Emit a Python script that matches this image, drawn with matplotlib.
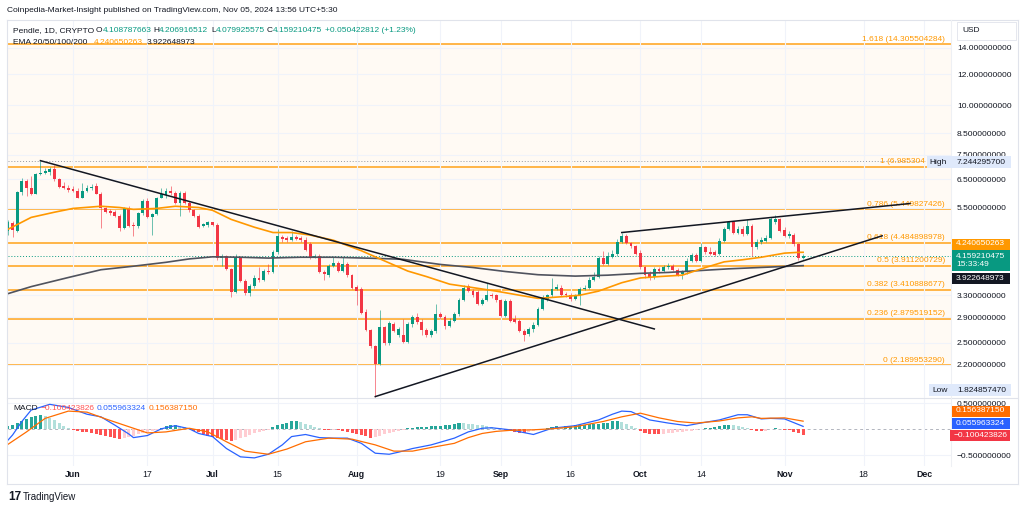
import matplotlib
matplotlib.use("Agg")
import matplotlib.pyplot as plt
import matplotlib.dates as mdates
import matplotlib.ticker as mticker
from matplotlib.patches import Rectangle
import numpy as np
import pandas as pd

plt.rcParams['font.family'] = ['Liberation Sans', 'DejaVu Sans']

# ---------------------------------------------------------------- data
dates = pd.date_range('2024-05-18', '2024-11-05', freq='D')

opens = [
    4.79, 5.03, 4.80, 6.04, 6.42, 6.19, 5.97, 6.69, 6.75, 6.76,
    6.88, 6.49, 6.24, 6.19, 6.14, 6.07, 5.83, 6.05, 6.16, 6.25,
    5.97, 5.48, 5.40, 5.36, 5.25, 4.90, 5.50, 4.98, 4.94, 5.32,
    5.72, 5.20, 5.30, 5.83, 5.92, 6.07, 6.01, 5.66, 6.01, 5.66,
    5.42, 5.25, 4.94, 4.97, 5.05, 4.98, 4.10, 4.16, 3.85, 3.36,
    4.12, 3.59, 3.34, 3.49, 3.65, 3.61, 3.81, 3.79, 4.24, 4.64,
    4.60, 4.55, 4.63, 4.60, 4.56, 4.45, 4.12, 4.16, 3.79, 3.71,
    3.92, 3.98, 3.81, 3.95, 3.71, 3.46, 3.42, 3.00, 2.69, 2.45,
    2.21, 2.74, 2.50, 2.79, 2.61, 2.62, 2.51, 2.79, 2.91, 2.83,
    2.69, 2.61, 2.67, 2.95, 2.90, 2.76, 2.84, 2.96, 3.21, 3.49,
    3.39, 3.36, 3.13, 3.21, 3.31, 3.30, 3.20, 2.93, 3.19, 2.88,
    2.84, 2.68, 2.63, 2.71, 2.77, 3.04, 3.22, 3.30, 3.42, 3.45,
    3.33, 3.31, 3.23, 3.28, 3.42, 3.45, 3.61, 3.66, 4.10, 3.96,
    4.12, 4.20, 4.51, 4.67, 4.47, 4.39, 4.22, 3.89, 3.74, 3.66,
    3.85, 3.81, 3.89, 3.91, 3.83, 3.74, 3.78, 4.04, 4.18, 4.04,
    4.37, 4.26, 4.24, 4.20, 4.54, 4.85, 5.05, 4.76, 4.87, 4.71,
    4.95, 4.37, 4.50, 4.54, 4.62, 5.06, 5.14, 4.83, 4.67, 4.70,
    4.45, 4.108787663]
highs = [
    5.11, 5.08, 6.08, 6.54, 6.49, 6.61, 6.75, 7.244295700, 6.94, 7.00,
    7.08, 6.53, 6.38, 6.27, 6.24, 6.16, 6.37, 6.27, 6.33, 6.34,
    6.02, 5.51, 5.45, 5.44, 5.30, 5.54, 5.55, 5.06, 5.36, 5.78,
    5.81, 5.35, 5.87, 6.19, 6.19, 6.25, 6.08, 6.08, 6.07, 5.71,
    5.45, 5.30, 5.03, 5.10, 5.07, 5.03, 4.20, 4.18, 3.87, 4.20,
    4.15, 3.63, 3.52, 3.72, 3.90, 3.85, 3.96, 4.30, 4.85, 4.70,
    4.66, 4.80, 4.68, 4.66, 4.63, 4.50, 4.20, 4.20, 3.82, 3.96,
    4.12, 4.03, 4.13, 4.01, 3.74, 3.50, 3.46, 3.04, 2.71, 2.47,
    3.03, 2.76, 2.84, 2.82, 2.74, 2.87, 2.82, 2.94, 2.98, 2.87,
    2.72, 2.71, 3.13, 2.99, 2.94, 2.89, 2.99, 3.25, 3.50, 3.52,
    3.42, 3.40, 3.25, 3.55, 3.35, 3.33, 3.23, 3.23, 3.23, 2.94,
    2.87, 2.71, 2.74, 2.82, 3.08, 3.31, 3.33, 3.64, 3.52, 3.50,
    3.36, 3.35, 3.33, 3.46, 3.50, 3.67, 3.77, 4.15, 4.28, 4.26,
    4.30, 4.58, 4.74, 4.71, 4.50, 4.42, 4.30, 3.91, 3.80, 3.89,
    3.89, 3.94, 3.98, 3.96, 3.87, 3.82, 4.10, 4.22, 4.22, 4.48,
    4.40, 4.37, 4.30, 4.60, 4.91, 5.10, 5.08, 4.94, 4.94, 5.14,
    5.00, 4.58, 4.63, 4.68, 5.20, 5.27, 5.19, 4.91, 4.80, 4.74,
    4.48, 4.206916512]
lows = [
    4.68, 4.63, 4.78, 5.93, 5.90, 5.93, 5.95, 6.65, 6.69, 6.65,
    6.45, 6.16, 6.13, 6.04, 6.03, 5.81, 5.81, 6.02, 6.10, 5.95,
    4.90, 5.33, 5.27, 5.20, 4.80, 4.86, 4.92, 4.67, 4.90, 5.28,
    5.17, 4.69, 5.27, 5.81, 5.84, 5.93, 5.63, 5.25, 5.61, 5.37,
    5.20, 4.88, 4.92, 4.93, 4.94, 4.06, 3.92, 3.82, 3.27, 3.35,
    3.56, 3.31, 3.29, 3.44, 3.56, 3.59, 3.74, 3.76, 4.20, 4.50,
    4.50, 4.53, 4.55, 4.50, 4.28, 4.08, 4.10, 3.75, 3.61, 3.68,
    3.90, 3.79, 3.79, 3.68, 3.43, 3.11, 2.96, 2.68, 2.43, 1.824857470,
    2.20, 2.47, 2.46, 2.66, 2.59, 2.49, 2.49, 2.74, 2.79, 2.61,
    2.59, 2.59, 2.65, 2.87, 2.71, 2.74, 2.82, 2.93, 3.19, 3.37,
    3.27, 3.11, 3.11, 3.19, 3.25, 3.17, 2.91, 2.91, 2.82, 2.81,
    2.66, 2.52, 2.60, 2.66, 2.76, 3.03, 3.19, 3.27, 3.40, 3.29,
    3.27, 3.19, 3.21, 3.11, 3.40, 3.42, 3.59, 3.65, 3.94, 3.94,
    4.10, 4.14, 4.47, 4.44, 4.35, 4.17, 3.85, 3.65, 3.61, 3.63,
    3.76, 3.79, 3.85, 3.81, 3.70, 3.63, 3.74, 4.01, 4.01, 4.01,
    4.20, 4.17, 4.15, 4.17, 4.50, 4.82, 4.71, 4.71, 4.66, 4.69,
    4.15, 4.32, 4.45, 4.50, 4.59, 5.00, 4.77, 4.63, 4.62, 4.40,
    4.05, 4.079925575]
closes = [
    5.06, 4.82, 6.04, 6.42, 6.19, 5.97, 6.69, 6.75, 6.81, 6.88,
    6.49, 6.21, 6.19, 6.09, 6.07, 5.83, 6.05, 6.19, 6.21, 5.97,
    5.50, 5.38, 5.32, 5.25, 4.90, 5.50, 4.95, 4.94, 5.32, 5.72,
    5.22, 5.30, 5.83, 5.95, 6.07, 5.99, 5.66, 6.01, 5.66, 5.42,
    5.25, 4.92, 5.00, 5.05, 4.98, 4.10, 4.16, 3.85, 3.36, 4.12,
    3.59, 3.34, 3.49, 3.65, 3.61, 3.81, 3.79, 4.24, 4.66, 4.57,
    4.55, 4.64, 4.58, 4.55, 4.30, 4.12, 4.16, 3.78, 3.74, 3.92,
    3.98, 3.81, 3.96, 3.71, 3.45, 3.39, 2.97, 2.69, 2.45, 2.21,
    2.74, 2.50, 2.80, 2.68, 2.71, 2.51, 2.79, 2.90, 2.82, 2.69,
    2.61, 2.67, 2.95, 2.90, 2.76, 2.84, 2.96, 3.21, 3.45, 3.39,
    3.30, 3.13, 3.21, 3.30, 3.29, 3.20, 2.93, 3.19, 2.84, 2.83,
    2.68, 2.62, 2.71, 2.77, 3.04, 3.23, 3.30, 3.43, 3.47, 3.31,
    3.30, 3.22, 3.28, 3.42, 3.45, 3.61, 3.66, 4.10, 3.96, 4.14,
    4.20, 4.51, 4.67, 4.47, 4.39, 4.20, 3.89, 3.71, 3.66, 3.84,
    3.81, 3.89, 3.91, 3.83, 3.72, 3.79, 4.04, 4.18, 4.04, 4.37,
    4.24, 4.20, 4.18, 4.54, 4.85, 5.05, 4.76, 4.87, 4.71, 4.95,
    4.37, 4.51, 4.56, 4.62, 5.14, 5.14, 4.80, 4.67, 4.72, 4.45,
    4.108787663, 4.159210475]

macd_hist = [
    0.07, 0.08, 0.12, 0.16, 0.20, 0.23, 0.25, 0.27, 0.26, 0.22,
    0.17, 0.12, 0.07, 0.03, -0.02, -0.03, -0.05, -0.06, -0.07, -0.09,
    -0.11, -0.12, -0.14, -0.16, -0.18, -0.17, -0.15, -0.12, -0.10, -0.08,
    -0.05, -0.03, -0.01, 0.03, 0.06, 0.08, 0.09, 0.07, 0.05, 0.02,
    -0.03, -0.06, -0.09, -0.12, -0.14, -0.16, -0.18, -0.20, -0.22, -0.20,
    -0.17, -0.14, -0.11, -0.08, -0.06, -0.04, -0.02, 0.04, 0.08, 0.11,
    0.13, 0.15, 0.16, 0.14, 0.11, 0.08, 0.05, 0.02, -0.01, -0.02,
    -0.01, -0.02, -0.03, -0.05, -0.07, -0.09, -0.11, -0.13, -0.16, -0.14,
    -0.12, -0.10, -0.08, -0.06, -0.04, -0.02, 0.02, 0.03, 0.04, 0.04,
    0.05, 0.06, 0.07, 0.07, 0.08, 0.09, 0.10, 0.13, 0.12, 0.11,
    0.10, 0.09, 0.08, 0.06, 0.05, 0.03, 0.02, -0.02, -0.04, -0.06,
    -0.07, -0.08, -0.06, -0.03, -0.02, -0.01, 0.03, 0.05, 0.06, 0.05,
    0.06, 0.07, 0.08, 0.08, 0.09, 0.10, 0.10, 0.11, 0.12, 0.13,
    0.15, 0.16, 0.14, 0.10, 0.06, 0.02, -0.04, -0.07, -0.09, -0.10,
    -0.10, -0.09, -0.08, -0.07, -0.06, -0.05, -0.04, -0.03, -0.02, 0.01,
    0.02, 0.03, 0.05, 0.07, 0.08, 0.09, 0.08, 0.06, 0.04, 0.02,
    -0.02, -0.03, -0.04, -0.03, 0.01, 0.02, 0.01, -0.01, -0.01, -0.05,
    -0.08, -0.100423826]

ema_fast_dates = ['2024-05-18', '2024-05-23', '2024-05-28', '2024-06-01', '2024-06-07',
                  '2024-06-11', '2024-06-14', '2024-06-19', '2024-06-23', '2024-06-28',
                  '2024-07-01', '2024-07-05', '2024-07-10', '2024-07-14', '2024-07-18',
                  '2024-07-22', '2024-07-27', '2024-08-02', '2024-08-06', '2024-08-12',
                  '2024-08-16', '2024-08-21', '2024-08-26', '2024-08-31', '2024-09-05',
                  '2024-09-09', '2024-09-14', '2024-09-18', '2024-09-22', '2024-09-27',
                  '2024-10-01', '2024-10-05', '2024-10-10', '2024-10-15', '2024-10-19',
                  '2024-10-23', '2024-10-27', '2024-11-01', '2024-11-04', '2024-11-05']
ema_fast = [4.85, 5.20, 5.36, 5.48, 5.55, 5.51, 5.45, 5.48, 5.55, 5.51,
            5.42, 5.14, 4.91, 4.76, 4.76, 4.69, 4.55, 4.28, 4.08, 3.80,
            3.68, 3.52, 3.45, 3.38, 3.30, 3.24, 3.27, 3.30, 3.38, 3.55,
            3.65, 3.68, 3.71, 3.88, 4.01, 4.06, 4.12, 4.22, 4.24, 4.240650263]

ema_slow_dates = ['2024-05-18', '2024-05-23', '2024-05-31', '2024-06-07', '2024-06-14',
                  '2024-06-21', '2024-06-26', '2024-07-01', '2024-07-07', '2024-07-13',
                  '2024-07-20', '2024-07-27', '2024-08-06', '2024-08-11', '2024-08-19',
                  '2024-08-26', '2024-09-02', '2024-09-09', '2024-09-17', '2024-09-24',
                  '2024-10-01', '2024-10-07', '2024-10-20', '2024-11-05']
ema_slow = [3.33, 3.47, 3.66, 3.83, 3.91, 4.00, 4.08, 4.13, 4.12, 4.10,
            4.12, 4.12, 4.09, 4.07, 3.95, 3.88, 3.79, 3.72, 3.69, 3.71,
            3.75, 3.77, 3.85, 3.922648973]

macd_dates = ['2024-05-18', '2024-05-19', '2024-05-21', '2024-05-23', '2024-05-27',
              '2024-05-31', '2024-06-04', '2024-06-07', '2024-06-10', '2024-06-13',
              '2024-06-14', '2024-06-17', '2024-06-20', '2024-06-23', '2024-06-26',
              '2024-06-28', '2024-07-01', '2024-07-04', '2024-07-07', '2024-07-10',
              '2024-07-13', '2024-07-16', '2024-07-18', '2024-07-21', '2024-07-24',
              '2024-07-27', '2024-07-30', '2024-08-02', '2024-08-05', '2024-08-08',
              '2024-08-10', '2024-08-13', '2024-08-17', '2024-08-22', '2024-08-25',
              '2024-08-28', '2024-08-30', '2024-09-03', '2024-09-08', '2024-09-12',
              '2024-09-17', '2024-09-22', '2024-09-25', '2024-09-27', '2024-09-29',
              '2024-10-03', '2024-10-07', '2024-10-11', '2024-10-14', '2024-10-18',
              '2024-10-22', '2024-10-24', '2024-10-27', '2024-10-29', '2024-11-01',
              '2024-11-05']
macd_line = [-0.21, -0.11, 0.15, 0.37, 0.48, 0.42, 0.29, 0.24, 0.08, -0.09,
             -0.16, -0.12, 0.01, 0.07, 0.01, -0.08, -0.14, -0.37, -0.53, -0.55,
             -0.48, -0.30, -0.14, -0.10, -0.16, -0.17, -0.17, -0.27, -0.46, -0.48,
             -0.44, -0.37, -0.30, -0.17, -0.05, 0.02, 0.03, -0.01, -0.10, 0.02,
             0.07, 0.18, 0.29, 0.35, 0.34, 0.18, 0.12, 0.07, 0.12, 0.18,
             0.28, 0.28, 0.20, 0.21, 0.20, 0.055963324]

signal_dates = ['2024-05-18', '2024-05-22', '2024-05-26', '2024-05-31', '2024-06-04',
                '2024-06-08', '2024-06-13', '2024-06-17', '2024-06-21', '2024-06-26',
                '2024-06-30', '2024-07-04', '2024-07-08', '2024-07-13', '2024-07-17',
                '2024-07-21', '2024-07-26', '2024-07-31', '2024-08-05', '2024-08-09',
                '2024-08-13', '2024-08-17', '2024-08-22', '2024-08-25', '2024-08-28',
                '2024-08-31', '2024-09-03', '2024-09-08', '2024-09-12', '2024-09-17',
                '2024-09-23', '2024-09-27', '2024-10-01', '2024-10-05', '2024-10-09',
                '2024-10-13', '2024-10-18', '2024-10-22', '2024-10-25', '2024-10-27',
                '2024-11-01', '2024-11-05']
signal_line = [-0.29, -0.05, 0.21, 0.35, 0.33, 0.20, 0.05, -0.07, -0.05, 0.02,
               -0.05, -0.24, -0.42, -0.48, -0.38, -0.24, -0.17, -0.19, -0.30, -0.42,
               -0.42, -0.35, -0.27, -0.16, -0.08, -0.04, -0.02, -0.01, 0.01, 0.05,
               0.15, 0.24, 0.31, 0.22, 0.15, 0.12, 0.16, 0.22, 0.24, 0.21,
               0.22, 0.156387150]

fib_ratios = ['1.618', '1', '0.786', '0.618', '0.5', '0.382', '0.236', '0']
fib_prices = [14.305504284, 6.985304488, 5.449827426, 4.484898978,
              3.911200729, 3.410888677, 2.879519152, 2.189953290]

down_line_dates = ['2024-05-25', '2024-10-04']
down_line_prices = [7.244, 2.71]
up_line_dates = ['2024-08-05', '2024-11-22']
up_line_prices = [1.825, 4.67]
wedge_top_dates = ['2024-09-27', '2024-11-28']
wedge_top_prices = [4.76, 5.64]

price_ticks = [2.2, 2.5, 2.9, 3.3, 5.5, 6.5, 7.5, 8.5, 10, 12, 14]
macd_ticks = [0.5, -0.5]
macd_tick_labels = ['0.500000000', '\u22120.500000000']
time_ticks = ['2024-06-01', '2024-06-17', '2024-07-01', '2024-07-15', '2024-08-01',
              '2024-08-19', '2024-09-01', '2024-09-16', '2024-10-01', '2024-10-14',
              '2024-11-01', '2024-11-18', '2024-12-01']
time_labels = ['Jun', '17', 'Jul', '15', 'Aug', '19', 'Sep', '16', 'Oct', '14',
               'Nov', '18', 'Dec']

# ---------------------------------------------------------------- style
UP = '#089981'
DOWN = '#f23645'
FIB = '#ff9800'
DARK = '#131722'
GRID = '#f0f3fa'
BORDER = '#e0e3eb'

W, H = 1024, 509
fig = plt.figure(figsize=(W / 100, H / 100), dpi=100)
fig.patch.set_facecolor('white')


def fx(x):
    return x / W


def fy(y):
    return 1 - y / H


ax = fig.add_axes([fx(8), fy(398), (951 - 8) / W, (398 - 20) / H])
ax2 = fig.add_axes([fx(8), fy(466), (951 - 8) / W, (466 - 398) / H], sharex=ax)

x = mdates.date2num(dates)
o = np.array(opens)
h = np.array(highs)
l = np.array(lows)
c = np.array(closes)
up = c >= o
colors = np.where(up, UP, DOWN)

# ---------------------------------------------------------------- price pane
ax.set_yscale('log')
for i in range(len(fib_prices) - 1):
    ax.axhspan(fib_prices[i + 1], fib_prices[i], color=FIB, alpha=0.045, lw=0, zorder=0.5)
for p in fib_prices:
    ax.axhline(p, color=FIB, lw=1.1, alpha=0.9, zorder=1)
for r, p in zip(fib_ratios, fib_prices):
    label = f'{r} ({p:.9f})'
    xpos = 0.9936
    if r == '1':
        # the High marker hides the end of this label, as on the reference
        label = label[:11]
        xpos = (925 - 8) / (951 - 8)
    ax.annotate(label, xy=(xpos, p), xycoords=('axes fraction', 'data'),
                xytext=(0, 1.2), textcoords='offset points', ha='right', va='bottom',
                fontsize=6, color=FIB, zorder=2)

ax.axhline(closes[-1], color=UP, ls=(0, (1, 2)), lw=0.7, zorder=1.5)
ax.axhline(highs[7], color='#9598a1', ls=(0, (1, 2)), lw=0.7, zorder=1.5)

ax.vlines(x, l, h, colors=colors, lw=0.7, alpha=0.6, zorder=3)
body_lo = np.minimum(o, c)
body_hi = np.maximum(o, c)
ax.bar(x, np.maximum(body_hi - body_lo, body_lo * 0.004), bottom=body_lo, width=0.62,
       color=colors, lw=0, zorder=4)

ax.plot(pd.to_datetime(ema_slow_dates), ema_slow, color='#50535e', lw=1.2, zorder=5)
ax.plot(pd.to_datetime(ema_fast_dates), ema_fast, color='#ff9800', lw=1.2, zorder=5)

for d, p in [(down_line_dates, down_line_prices), (up_line_dates, up_line_prices),
             (wedge_top_dates, wedge_top_prices)]:
    ax.plot(pd.to_datetime(d), p, color='#131722', lw=1.1, zorder=6)

ax.set_ylim(1.81, 16.48)
ax.yaxis.tick_right()
ax.yaxis.set_minor_locator(mticker.NullLocator())
ax.yaxis.set_minor_formatter(mticker.NullFormatter())
ax.set_yticks(price_ticks)
ax.set_yticklabels([f'{v:.9f}' for v in price_ticks])
ax.tick_params(axis='y', length=0, pad=4.3, labelsize=6, labelcolor=DARK)
ax.tick_params(axis='x', length=0, labelbottom=False)
ax.grid(True, color=GRID, lw=0.8, zorder=0)
for s in ax.spines.values():
    s.set_visible(False)

# ---------------------------------------------------------------- MACD pane
hist = np.array(macd_hist)
prev = np.concatenate([[hist[0]], hist[:-1]])
hist_colors = np.where(hist >= 0,
                       np.where(hist >= prev, '#26a69a', '#b2dfdb'),
                       np.where(hist <= prev, '#ff5252', '#ffcdd2'))
ax2.bar(x, hist, width=0.65, color=hist_colors, lw=0, zorder=2)
ax2.axhline(0, color='#b2b5be', ls=(0, (3, 3)), lw=0.7, zorder=1)
ax2.plot(pd.to_datetime(macd_dates), macd_line, color='#2962ff', lw=0.9, zorder=3)
ax2.plot(pd.to_datetime(signal_dates), signal_line, color='#ff6d00', lw=0.9, zorder=3)
ax2.set_ylim(-0.706, 0.602)
ax2.yaxis.tick_right()
ax2.set_yticks(macd_ticks)
ax2.set_yticklabels(macd_tick_labels)
ax2.tick_params(axis='y', length=0, pad=4.3, labelsize=6, labelcolor=DARK)
ax2.set_xticks(mdates.date2num(pd.to_datetime(time_ticks)))
ax2.set_xticklabels(time_labels)
ax2.tick_params(axis='x', length=0, pad=3, labelsize=6.3, labelcolor=DARK)
for t in ax2.get_xticklabels():
    if not t.get_text().isdigit():
        t.set_fontweight('bold')
ax2.grid(True, color=GRID, lw=0.8, zorder=0)
for s in ax2.spines.values():
    s.set_visible(False)

x0 = mdates.date2num(pd.Timestamp('2024-06-01'))
ax.set_xlim(x0 - 13.98, x0 + 188.8)

# ---------------------------------------------------------------- frame and labels
def hline(y, x_a, x_b, color=BORDER, lw=0.8):
    fig.add_artist(plt.Line2D([fx(x_a), fx(x_b)], [fy(y), fy(y)], transform=fig.transFigure,
                              color=color, lw=lw, zorder=7))


def vline(xp, y_a, y_b, color=BORDER, lw=0.8):
    fig.add_artist(plt.Line2D([fx(xp), fx(xp)], [fy(y_a), fy(y_b)], transform=fig.transFigure,
                              color=color, lw=lw, zorder=7))


hline(20, 7, 1018)
hline(398, 7, 1018)
hline(484, 7, 1018)
vline(7, 20, 484)
vline(1018, 20, 484)
vline(951, 20, 466, color='#eef0f4')

renderer = fig.canvas.get_renderer()


def text_run(x_px, y_px, parts, size=6):
    for s, col in parts:
        t = fig.text(fx(x_px), fy(y_px), s, fontsize=size, color=col, va='center',
                     ha='left', zorder=9)
        x_px += t.get_window_extent(renderer).width


text_run(7, 11, [('Coinpedia-Market-Insight published on TradingView.com, Nov 05, 2024 13:56 UTC+5:30', DARK)])
text_run(13, 31, [('Pendle, 1D, CRYPTO', DARK)])
text_run(96, 31, [('O', DARK), ('4.108787663', UP)])
text_run(153, 31, [('H', DARK), ('4.206916512', UP)])
text_run(211, 31, [('L', DARK), ('4.079925575', UP)])
text_run(267, 31, [('C', DARK), ('4.159210475', UP)])
text_run(325, 31, [('+0.050422812 (+1.23%)', UP)])
text_run(13, 43, [('EMA 20/50/100/200', DARK)])
text_run(94, 43, [('4.240650263', '#ff9800')])
text_run(147, 43, [('3.922648973', DARK)])

text_run(13, 409, [('MACD', DARK)])
text_run(41, 409, [('\u22120.100423826', '#ff5252')])
text_run(97, 409, [('0.055963324', '#2962ff')])
text_run(149, 409, [('0.156387150', '#ff6d00')])


def rect(xa, xb, ya, yb, fc, ec='none'):
    fig.add_artist(Rectangle((fx(xa), fy(yb)), (xb - xa) / W, (yb - ya) / H,
                             transform=fig.transFigure, fc=fc, ec=ec, lw=0.6, zorder=8))


def tag(y_px, text, fc, tc='white', xa=952, xb=1010, hh=11):
    rect(xa, xb, y_px - hh / 2, y_px + hh / 2, fc)
    fig.text(fx(xa + 4), fy(y_px), text, color=tc, fontsize=6, va='center', ha='left', zorder=9)


# USD box
rect(957, 1016, 22, 40, 'white', ec=BORDER)
fig.text(fx(962), fy(31), 'USD', fontsize=6, color=DARK, va='center', zorder=9)

# High / Low markers
rect(927, 1011, 156, 168, '#dfe9fb')
fig.text(fx(929), fy(162), 'High', fontsize=6, color=DARK, va='center', zorder=9)
fig.text(fx(957), fy(162), '7.244295700', fontsize=6, color=DARK, va='center', zorder=9)
rect(929, 1011, 384, 396, '#dfe9fb')
fig.text(fx(932), fy(390), 'Low', fontsize=6, color=DARK, va='center', zorder=9)
fig.text(fx(957), fy(390), '1.824857470', fontsize=6, color=DARK, va='center', zorder=9)

# price tags
tag(244, '4.240650263', '#ff9800')
rect(952, 1010, 250, 271, UP)
fig.text(fx(956), fy(256), '4.159210475', fontsize=6, color='white', va='center', zorder=9)
fig.text(fx(956), fy(265), '15:33:49', fontsize=6, color='white', va='center', zorder=9)
tag(278, '3.922648973', '#131722')

tag(411, '0.156387150', '#ff6d00')
tag(423.5, '0.055963324', '#2962ff')
tag(435.5, '\u22120.100423826', '#f23645', xa=950)

# TradingView logo
fig.text(fx(8), fy(497), '17', fontsize=8.5, fontweight='bold', color=DARK, va='center')
fig.text(fx(23), fy(497), 'TradingView', fontsize=7, color=DARK, va='center')

fig.savefig('out.png', dpi=100, facecolor='white')
